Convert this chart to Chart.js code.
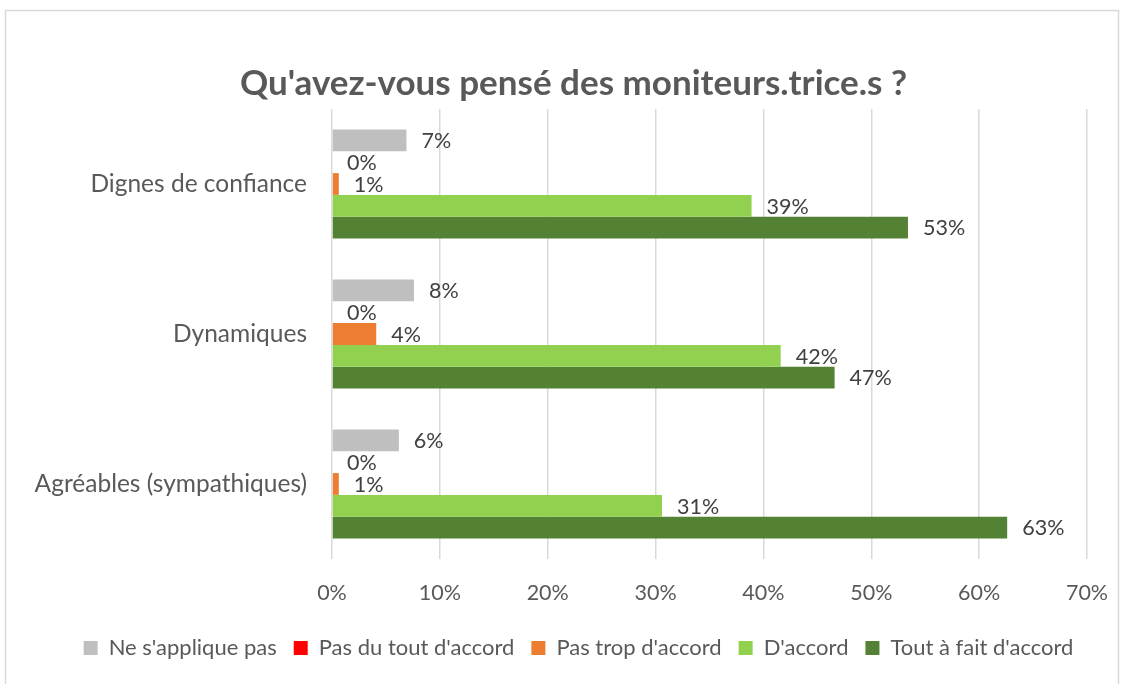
<!DOCTYPE html>
<html lang="fr">
<head>
<meta charset="utf-8">
<title>Moniteurs</title>
<script src="https://cdn.jsdelivr.net/npm/chart.js@4/dist/chart.umd.min.js"></script>
<style>
  html, body { margin: 0; padding: 0; background: #fff; }
  #wrap { position: relative; width: 1124px; height: 684px; }
</style>
</head>
<body>
<div id="wrap"><canvas id="chart" width="1124" height="684"></canvas></div>
<script>
// Data (percentages)
const categories = ['Dignes de confiance', 'Dynamiques', 'Agréables (sympathiques)'];
const seriesNames = ["Ne s'applique pas", "Pas du tout d'accord", "Pas trop d'accord", "D'accord", "Tout à fait d'accord"];
const neSappliquePas = [6.9, 7.6, 6.2];
const pasDuToutDaccord = [0, 0, 0];
const pasTropDaccord = [0.63, 4.1, 0.63];
const daccord = [38.9, 41.6, 30.6];
const toutAFaitDaccord = [53.4, 46.6, 62.6];
const xTicks = [0, 10, 20, 30, 40, 50, 60, 70];

const colors = ['#BFBFBF', '#FF0000', '#ED7D31', '#92D050', '#548235'];
const FONT = 'Lato, "Open Sans", sans-serif';

const seriesValues = [neSappliquePas, pasDuToutDaccord, pasTropDaccord, daccord, toutAFaitDaccord];

// Outer border of the chart
const borderPlugin = {
    id: 'outerBorder',
    beforeDraw(chart) {
        const ctx = chart.ctx;
        ctx.save();
        ctx.strokeStyle = '#d9d9d9';
        ctx.lineWidth = 1.5;
        ctx.strokeRect(5.5, 10.5, 1113, 680);
        ctx.restore();
    }
};

// Title and legend sit a bit right of the canvas centre in the original
const shiftBlocks = {
    id: 'shiftBlocks',
    afterLayout(chart) {
        if (chart.titleBlock) { chart.titleBlock.left += 30; chart.titleBlock.right += 30; }
        if (chart.legend) { chart.legend.left += 35; chart.legend.right += 35; }
    }
};

// Value labels at the end of each bar
const valueLabels = {
    id: 'valueLabels',
    afterDatasetsDraw(chart) {
        const ctx = chart.ctx;
        ctx.save();
        ctx.font = '21.5px ' + FONT;
        ctx.fillStyle = '#404040';
        ctx.textAlign = 'left';
        ctx.textBaseline = 'middle';
        chart.data.datasets.forEach((ds, i) => {
            chart.getDatasetMeta(i).data.forEach((bar, j) => {
                ctx.fillText(Math.round(ds.data[j]) + '%', bar.x + 15, bar.y + 1);
            });
        });
        ctx.restore();
    }
};

new Chart(document.getElementById('chart'), {
    type: 'bar',
    data: {
        labels: categories,
        datasets: seriesNames.map((name, i) => ({
            label: name,
            data: seriesValues[i],
            backgroundColor: colors[i],
            borderWidth: 0,
            categoryPercentage: 0.726,
            barPercentage: 1
        }))
    },
    options: {
        indexAxis: 'y',
        responsive: false,
        animation: false,
        layout: { padding: { left: 0, right: 37, top: 0, bottom: 15 } },
        scales: {
            x: {
                min: 0,
                max: 70,
                afterBuildTicks: (scale) => { scale.ticks = xTicks.map(v => ({ value: v })); },
                afterFit: (scale) => {
                    scale.height = 61;
                    scale.paddingLeft = 0;
                    scale.paddingRight = 0;
                },
                grid: { color: '#d9d9d9', lineWidth: 1.5, drawTicks: false },
                border: { display: false },
                ticks: {
                    padding: 21,
                    maxRotation: 0,
                    minRotation: 0,
                    color: '#595959',
                    font: { family: FONT, size: 21.5 },
                    callback: (v) => v + '%'
                }
            },
            y: {
                afterFit: (scale) => { scale.width = 332; },
                grid: { display: false, drawTicks: false },
                border: { display: false },
                ticks: {
                    padding: 25,
                    color: '#595959',
                    font: { family: FONT, size: 24.5 }
                }
            }
        },
        plugins: {
            title: {
                display: true,
                text: "Qu'avez-vous pensé des moniteurs.trice.s ?",
                color: '#595959',
                font: { family: FONT, size: 35, weight: 'bold' },
                padding: { top: 63, bottom: 4 }
            },
            legend: {
                position: 'bottom',
                labels: {
                    boxWidth: 14,
                    boxHeight: 14,
                    padding: 17,
                    color: '#595959',
                    font: { family: FONT, size: 22 }
                }
            },
            tooltip: { enabled: false }
        }
    },
    plugins: [borderPlugin, shiftBlocks, valueLabels]
});
</script>
</body>
</html>
